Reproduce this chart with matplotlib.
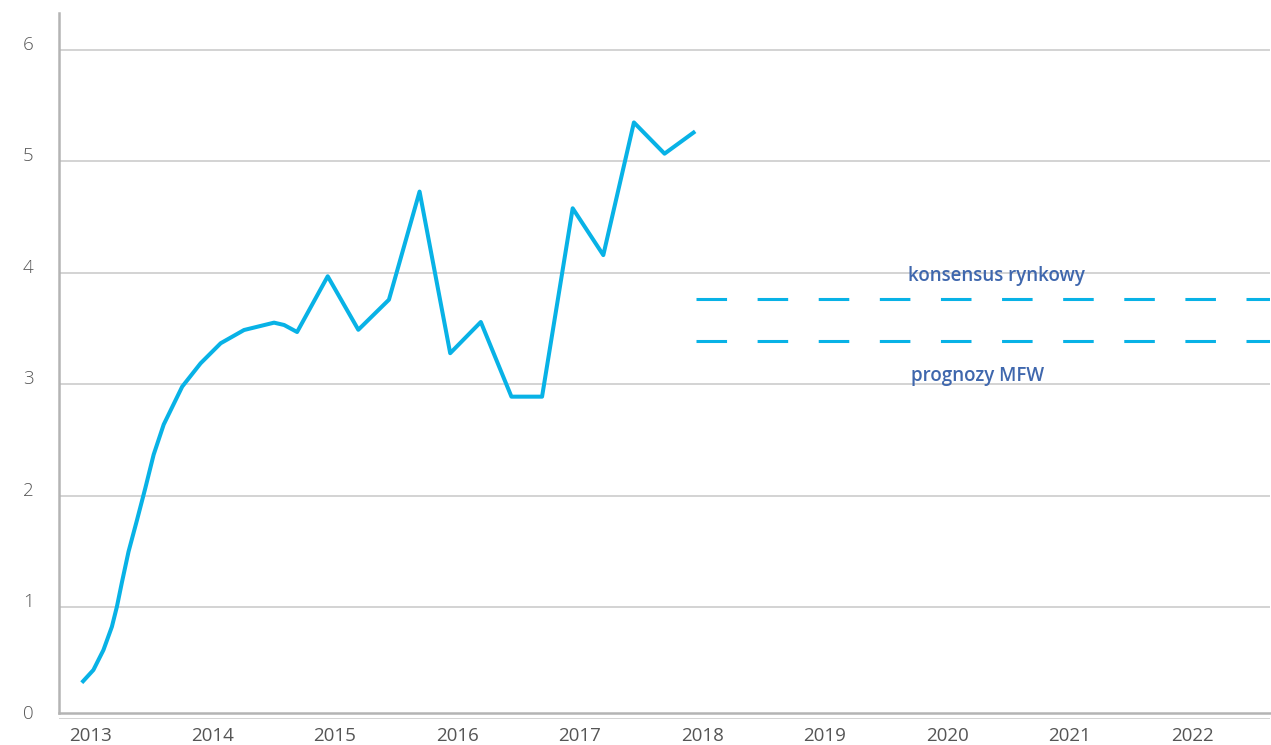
import numpy as np
import matplotlib.pyplot as plt

years = [2013, 2014, 2015, 2016, 2017, 2018, 2019, 2020, 2021, 2022]

# smooth early part of the curve
x_smooth = [2012.932, 2013.027, 2013.109, 2013.178, 2013.219, 2013.260, 2013.314,
            2013.383, 2013.451, 2013.519, 2013.601, 2013.752, 2013.902, 2014.066,
            2014.257, 2014.502, 2014.584]
y_smooth = [0.324, 0.438, 0.617, 0.826, 1.006, 1.225, 1.500, 1.783, 2.070, 2.370,
            2.640, 2.980, 3.189, 3.369, 3.488, 3.554, 3.533]

# quarterly part
x_q = [2014.69, 2014.94, 2015.19, 2015.44, 2015.69, 2015.94, 2016.19, 2016.44,
       2016.69, 2016.94, 2017.19, 2017.44, 2017.69, 2017.94]
y_q = [3.47, 3.97, 3.49, 3.76, 4.73, 3.28, 3.56, 2.89, 2.89, 4.58, 4.16, 5.35,
       5.07, 5.27]

konsensus = 3.77
prognozy_mfw = 3.39
forecast_start = 2017.945

line_color = '#08b2e6'
text_color = '#3f67ad'

plt.rcParams['font.family'] = ['Open Sans', 'DejaVu Sans']

fig = plt.figure(figsize=(12.71, 7.45), dpi=100)
ax = fig.add_axes([0.0464, 0.03517, 0.9528, 0.94738])

ax.plot(x_smooth + x_q, y_smooth + y_q, color=line_color, lw=2.9,
        solid_joinstyle='round', solid_capstyle='butt', zorder=3)

xmax = 2022.633
for val in [konsensus, prognozy_mfw]:
    ax.plot([forecast_start, xmax], [val, val], color=line_color, lw=2.2,
            dashes=(10, 10), dash_capstyle='butt', zorder=3)

ax.text(2019.68, 3.93, 'konsensus rynkowy', color=text_color, fontsize=13.5,
        fontweight='semibold', ha='left', va='baseline')
ax.text(2019.705, 3.03, 'prognozy MFW', color=text_color, fontsize=13.5,
        fontweight='semibold', ha='left', va='baseline')

ax.set_xticks(years)
ax.set_xticklabels([str(y) for y in years])
ax.set_yticks(range(0, 7))
ax.set_xlim(2012.746, xmax)
ax.set_ylim(0, 6.332)
ax.tick_params(length=0, labelsize=13.5, labelcolor='#555555')
ax.tick_params(axis='y', pad=22)
ax.tick_params(axis='x', pad=10)
for lab in ax.get_yticklabels():
    lab.set_horizontalalignment('center')
    lab.set_verticalalignment('baseline')
for lab in ax.get_xticklabels() + ax.get_yticklabels():
    lab.set_fontweight('light')

ax.grid(axis='y', color='#c8c8c8', lw=1.1)
ax.set_axisbelow(True)
for s in ['top', 'right']:
    ax.spines[s].set_visible(False)
for s in ['left', 'bottom']:
    ax.spines[s].set_color('#b4b4b4')
    ax.spines[s].set_linewidth(1.8)
ax.spines['bottom'].set_position(('data', 0.055))
ax.spines['left'].set_bounds(0.055, 6.332)

fig.savefig('out.png', dpi=100)
